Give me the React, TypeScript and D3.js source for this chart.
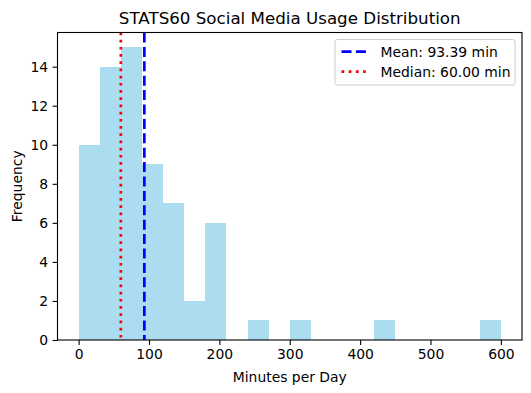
import React, { useEffect, useRef } from 'react';
import * as d3 from 'd3';

// histogram bins (30 min wide) and counts
const binEdges = [0, 30, 60, 90, 120, 150, 180, 210, 240, 270, 300, 330, 360, 390, 420, 450, 480, 510, 540, 570, 600];
const counts = [10, 14, 15, 9, 7, 2, 6, 0, 1, 0, 1, 0, 0, 0, 1, 0, 0, 0, 0, 1];
const xTicks = [0, 100, 200, 300, 400, 500, 600];
const yTicks = [0, 2, 4, 6, 8, 10, 12, 14];
const meanValue = 93.39;
const medianValue = 60.0;

const W = 531;
const H = 393;

const App: React.FC = () => {
  const svgRef = useRef<SVGSVGElement>(null);

  useEffect(() => {
    if (!svgRef.current) return;
    const svg = d3.select(svgRef.current);
    svg.selectAll('*').remove();

    const left = 57.5, right = 522, top = 32.5, bottom = 340;
    const font = 'DejaVu Sans, sans-serif';

    const x = d3.scaleLinear().domain([-30, 630]).range([left, right]);
    const yMax = (d3.max(counts) as number) * 1.05;
    const y = d3.scaleLinear().domain([0, yMax]).range([bottom, top]);

    const bins = counts.map((c, i) => ({ x0: binEdges[i], x1: binEdges[i + 1], c }));

    svg.append('g')
      .attr('shape-rendering', 'crispEdges')
      .selectAll('rect')
      .data(bins.filter(b => b.c > 0))
      .enter()
      .append('rect')
      .attr('x', d => x(d.x0))
      .attr('width', d => x(d.x1) - x(d.x0))
      .attr('y', d => y(d.c))
      .attr('height', d => y(0) - y(d.c))
      .attr('fill', '#abdcf0');

    // mean / median lines
    svg.append('line')
      .attr('x1', x(meanValue)).attr('x2', x(meanValue))
      .attr('y1', top).attr('y2', bottom)
      .attr('stroke', '#0000ff').attr('stroke-width', 2.7)
      .attr('stroke-dasharray', '10,4.4');
    svg.append('line')
      .attr('x1', x(medianValue)).attr('x2', x(medianValue))
      .attr('y1', top).attr('y2', bottom)
      .attr('stroke', '#ff0000').attr('stroke-width', 2.7)
      .attr('stroke-dasharray', '2.7,4.5');

    // frame
    svg.append('rect')
      .attr('x', left).attr('y', top)
      .attr('width', right - left).attr('height', bottom - top)
      .attr('fill', 'none').attr('stroke', 'black').attr('stroke-width', 1.1);

    const xAxis = svg.append('g')
      .attr('transform', `translate(0,${bottom})`)
      .call(d3.axisBottom(x).tickValues(xTicks).tickSize(4.9).tickPadding(4.5).tickFormat(d3.format('d')));
    xAxis.select('.domain').remove();

    const yAxis = svg.append('g')
      .attr('transform', `translate(${left},0)`)
      .call(d3.axisLeft(y).tickValues(yTicks).tickSize(4.9).tickPadding(4.5).tickFormat(d3.format('d')));
    yAxis.select('.domain').remove();

    svg.selectAll('.tick text')
      .attr('font-family', font)
      .attr('font-size', 13.9)
      .attr('fill', 'black');
    svg.selectAll('.tick line').attr('stroke', 'black').attr('stroke-width', 1.1);

    svg.append('text')
      .attr('x', (left + right) / 2).attr('y', 24)
      .attr('text-anchor', 'middle')
      .attr('font-family', font).attr('font-size', 16.7)
      .text('STATS60 Social Media Usage Distribution');

    svg.append('text')
      .attr('x', (left + right) / 2).attr('y', 382)
      .attr('text-anchor', 'middle')
      .attr('font-family', font).attr('font-size', 13.9)
      .text('Minutes per Day');

    svg.append('text')
      .attr('transform', `translate(22,${(top + bottom) / 2}) rotate(-90)`)
      .attr('text-anchor', 'middle')
      .attr('font-family', font).attr('font-size', 13.9)
      .text('Frequency');

    // legend
    const lg = svg.append('g');
    lg.append('rect')
      .attr('x', 335).attr('y', 39.5)
      .attr('width', 180).attr('height', 45.5).attr('rx', 2.5)
      .attr('fill', 'white').attr('fill-opacity', 0.8)
      .attr('stroke', '#cccccc').attr('stroke-width', 1);
    const items = [
      { label: `Mean: ${meanValue.toFixed(2)} min`, color: '#0000ff', dash: '10,4.4' },
      { label: `Median: ${medianValue.toFixed(2)} min`, color: '#ff0000', dash: '2.7,4.5' },
    ];
    items.forEach((it, i) => {
      const cy = 51.7 + i * 20;
      lg.append('line')
        .attr('x1', 341.5).attr('x2', 367.5)
        .attr('y1', cy).attr('y2', cy)
        .attr('stroke', it.color).attr('stroke-width', 2.7)
        .attr('stroke-dasharray', it.dash);
      lg.append('text')
        .attr('x', 380.5).attr('y', cy + 5)
        .attr('font-family', font).attr('font-size', 13.9)
        .text(it.label);
    });
  }, []);

  return <svg ref={svgRef} width={W} height={H} style={{ display: 'block', margin: -8 }} />;
};

export default App;
